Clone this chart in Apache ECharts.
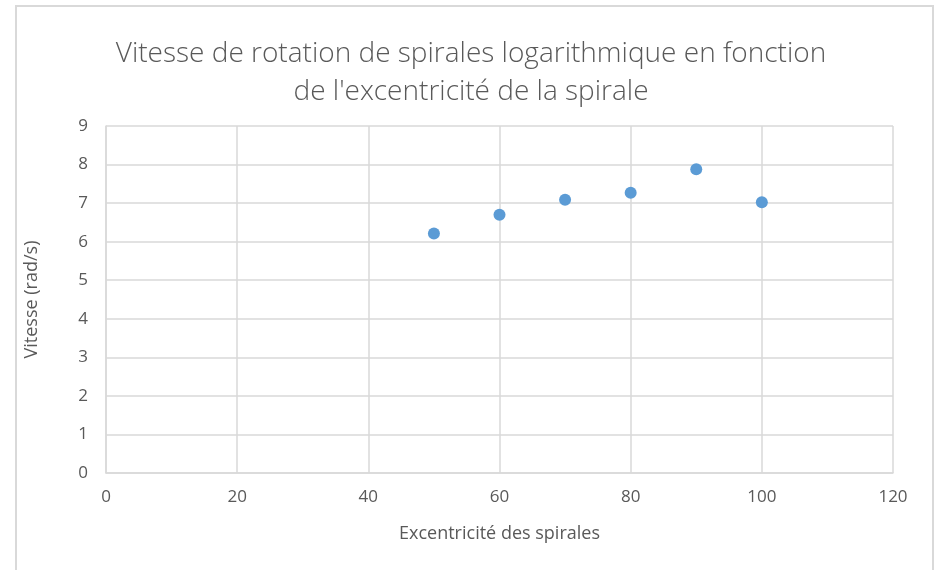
<!DOCTYPE html>
<html><head><meta charset="utf-8">
<script src="https://cdn.jsdelivr.net/npm/echarts@6/dist/echarts.min.js"></script>
<style>html,body{margin:0;padding:0;background:#fff}#c{width:942px;height:570px}</style>
</head><body><div id="c"></div>
<script>
const excentricite = [50, 60, 70, 80, 90, 100];
const vitesse = [6.21, 6.70, 7.09, 7.27, 7.88, 7.02];
const titleText = "Vitesse de rotation de spirales logarithmique en fonction\nde l'excentricité de la spirale";
const xName = "Excentricité des spirales";
const yName = "Vitesse (rad/s)";

const chart = echarts.init(document.getElementById('c'), null, {renderer: 'canvas'});
const font = "'Open Sans', sans-serif";
chart.setOption({
  animation: false,
  backgroundColor: '#fff',
  graphic: [{
    type: 'rect', shape: {x: 16, y: 6, width: 917, height: 600},
    style: {fill: 'none', stroke: '#d9d9d9', lineWidth: 2}, silent: true
  }],
  title: {
    text: titleText, left: 'center', top: 30,
    textStyle: {fontFamily: font, fontWeight: 300, fontSize: 28, color: '#595959', lineHeight: 38}
  },
  grid: {left: 106, right: 49, top: 126, bottom: 97},
  xAxis: {
    type: 'value', min: 0, max: 120, interval: 20,
    name: xName, nameLocation: 'middle', nameGap: 52,
    nameTextStyle: {fontFamily: font, fontSize: 18, color: '#595959'},
    axisLine: {show: true, lineStyle: {color: '#d9d9d9', width: 1.5}},
    axisTick: {show: false},
    axisLabel: {fontFamily: font, fontSize: 17, color: '#595959', margin: 16},
    splitLine: {show: true, lineStyle: {color: '#d9d9d9', width: 1.5}}
  },
  yAxis: {
    type: 'value', min: 0, max: 9, interval: 1,
    name: yName, nameLocation: 'middle', nameGap: 65, nameRotate: 90,
    nameTextStyle: {fontFamily: font, fontSize: 18, color: '#595959'},
    axisLine: {show: true, lineStyle: {color: '#d9d9d9', width: 1.5}},
    axisTick: {show: false},
    axisLabel: {fontFamily: font, fontSize: 17, color: '#595959', margin: 18},
    splitLine: {show: true, lineStyle: {color: '#d9d9d9', width: 1.5}}
  },
  series: [{
    type: 'scatter',
    data: excentricite.map((x, i) => [x, vitesse[i]]),
    symbol: 'circle', symbolSize: 12,
    itemStyle: {color: '#5b9bd5', opacity: 1}
  }]
});
</script></body></html>
